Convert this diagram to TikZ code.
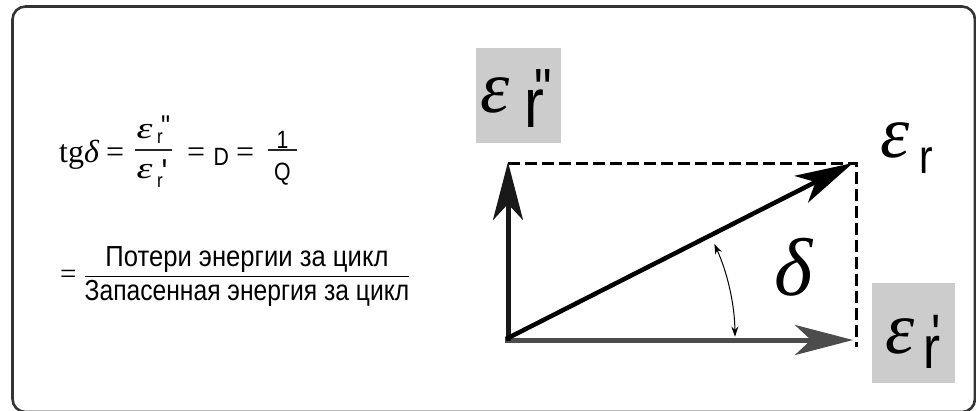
\documentclass[tikz,border=0pt]{standalone}
\usepackage{amsmath}
\usepackage{fontspec}
\usetikzlibrary{arrows.meta}
\newfontfamily\tms{Liberation Serif}
\newfontfamily\hel[FakeStretch=0.85,Ligatures=TeXOff]{Liberation Sans}
\newcommand{\fsz}[1]{\fontsize{#1}{#1}\selectfont}
\newcommand{\hs}[1]{\hel\fontsize{#1}{#1}\selectfont}
\newcommand{\smeps}{\scalebox{1.35}[1]{\tms\itshape\fsz{30}ε}}
\newcommand{\eqs}{\mathrel{\text{\tms =}}}
\tikzset{
  frame/.style={draw=black!80, line width=2.6pt, rounded corners=13pt},
  graybox/.style={fill=black!20, draw=none, inner sep=0pt},
  vec/.style={line width=5pt, -{Stealth[length=58pt,width=30pt,inset=16pt]}},
  dashline/.style={line width=3pt, dash pattern=on 12pt off 5pt},
  anglearc/.style={line width=1pt, {Stealth[length=10pt,width=7pt]}-{Stealth[length=10pt,width=7pt]}},
  fracbar/.style={line width=1.3pt, draw=black!85},
  lbl/.style={inner sep=0pt, anchor=base west},
  ctr/.style={inner sep=0pt, anchor=base},
}
\begin{document}
\begin{tikzpicture}[x=1pt,y=1pt]
\useasboundingbox (0,0) rectangle (976,-410);
\draw[frame] (12.5,-6.5) rectangle (975,-412);
% ---------- formula, line 1
\node[lbl] (tg) at (59,-162) {\tms\fsz{32}tg\textit{δ}};
\node[lbl] (q1) at (106,-162) {\tms\fsz{32}=};
\node[lbl] (ne) at (136.5,-138) {\smeps};
\node[lbl] (nr) at (157,-143) {\hs{20}r};
\node[lbl] (nq) at (161,-136.5) {\hs{30}"};
\draw[fracbar] (135,-150) -- (172,-150);
\node[lbl] (de) at (136.5,-178) {\smeps};
\node[lbl] (dr) at (157,-187) {\hs{20}r};
\node[lbl] (dq) at (161.5,-184) {\hs{36}'};
\node[lbl] (q2) at (187,-162) {\tms\fsz{32}=};
\node[lbl] (D) at (213.5,-165) {\hs{25}D};
\node[lbl] (q3) at (236,-162) {\tms\fsz{32}=};
\node[ctr] (one) at (282.5,-148) {\hs{25}1};
\draw[fracbar] (268,-150) -- (297,-150);
\node[ctr] (Q) at (282.5,-180) {\hs{25}Q};
% ---------- formula, line 2
\node[lbl] (f2) at (60,-283) {\fsz{29}$\eqs\dfrac{\text{\scalebox{1.04}[1]{\hel Потери энергии за цикл}}}{\text{\hel Запасенная энергия за цикл}}$};
% ---------- gray label boxes
\node[graybox, minimum width=85pt, minimum height=95pt] (b1) at (518.5,-95.5) {};
\node[graybox, minimum width=83pt, minimum height=100pt] (b2) at (913.5,-333) {};
% ---------- vectors
\coordinate (O) at (506,-339);
\coordinate (H0) at (505,-340);
\coordinate (V0) at (508,-341);
\coordinate (A) at (508,-162);
\coordinate (B) at (853,-340);
\coordinate (C) at (853,-163);
\coordinate (D1) at (508,-163);
\coordinate (D2) at (856,-163);
\coordinate (D3) at (856,-347);
\draw[dashline] (D1) -- (D2) -- (D3);
\draw[vec, color=black!70] (H0) -- (B);
\draw[vec, color=black!90] (V0) -- (A);
\draw[vec, color=black, line width=4.5pt] (O) -- (C);
\draw[anglearc] ([shift={(0.6:229)}]O) arc[start angle=0.6, end angle=24.5, radius=229];
% ---------- labels
\node[lbl] (e2) at (480,-112) {\tms\itshape\fsz{74}ε};
\node[lbl] (e2r) at (524,-127) {\hs{70}r\kern-9.8pt\raisebox{17.5pt}{\hs{58}"}};
\node[lbl] (e0) at (880,-157) {\tms\itshape\fsz{74}ε};
\node[lbl] (e0r) at (919,-173) {\hs{48}r};
\node[lbl] (e1) at (885,-353) {\tms\itshape\fsz{74}ε};
\node[lbl] (e1r) at (923,-368) {\hs{60}r\kern-9pt\raisebox{14pt}{\hs{57}'}};
\node[lbl] (dl) at (774,-295) {\tms\itshape\fsz{82}δ};
\end{tikzpicture}
\end{document}
